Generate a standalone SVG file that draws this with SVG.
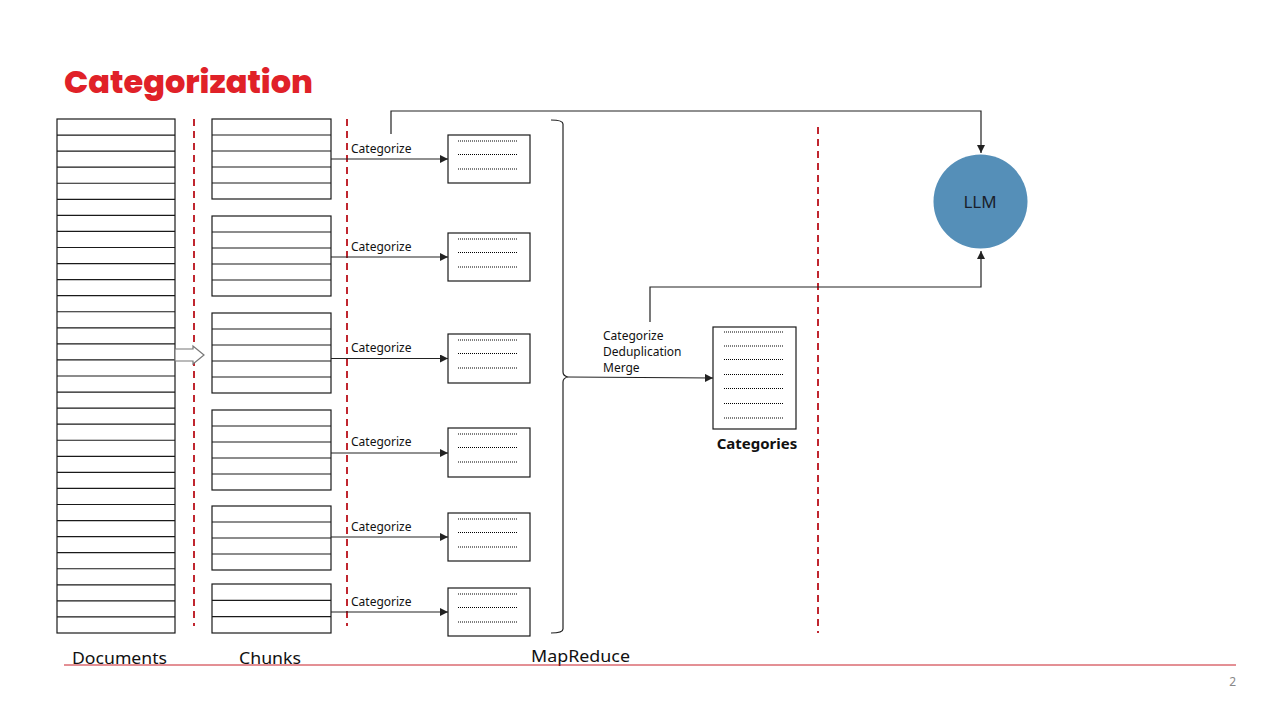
<svg xmlns="http://www.w3.org/2000/svg" width="1280" height="720" viewBox="0 0 1280 720">
<defs>
<style>
.box{fill:#fff;stroke:#1a1a1a;stroke-width:1.2}
.row{fill:none;stroke:#1a1a1a;stroke-width:1.2}
.dots{fill:none;stroke:#000;stroke-width:1.1;stroke-dasharray:1 1}
.conn{fill:none;stroke:#222;stroke-width:1.2}
.red{fill:none;stroke:#c0262f;stroke-width:2;stroke-dasharray:7 5}
.lbl{font-family:"Noto Sans","Open Sans",sans-serif;font-size:12px;fill:#111}
.big{font-family:"Noto Sans","Open Sans",sans-serif;font-size:17px;fill:#111}
</style>
<marker id="ah" viewBox="0 0 10 10" refX="10" refY="5" markerWidth="8" markerHeight="8" markerUnits="userSpaceOnUse" orient="auto">
<path d="M0,0 L10,5 L0,10 z" fill="#222"/>
</marker>
</defs>
<rect width="1280" height="720" fill="#fff"/>
<text x="64" y="93" font-family="Poppins,'Open Sans',sans-serif" font-weight="800" font-size="32" fill="#e02128" textLength="249" lengthAdjust="spacingAndGlyphs">Categorization</text>

<g id="documents">
<rect class="box" x="57" y="119" width="118" height="514"/>
<path class="row" d="M57,135.06H175M57,151.13H175M57,167.19H175M57,183.25H175M57,199.31H175M57,215.38H175M57,231.44H175M57,247.5H175M57,263.56H175M57,279.63H175M57,295.69H175M57,311.75H175M57,327.81H175M57,343.88H175M57,359.94H175M57,376H175M57,392.06H175M57,408.13H175M57,424.19H175M57,440.25H175M57,456.31H175M57,472.38H175M57,488.44H175M57,504.5H175M57,520.56H175M57,536.63H175M57,552.69H175M57,568.75H175M57,584.81H175M57,600.88H175M57,616.94H175"/>
</g>

<g id="chunks">
<rect class="box" x="212" y="119" width="119" height="80"/>
<path class="row" d="M212,135H331M212,151H331M212,167H331M212,183H331"/>
<rect class="box" x="212" y="216" width="119" height="80"/>
<path class="row" d="M212,232H331M212,248H331M212,264H331M212,280H331"/>
<rect class="box" x="212" y="313" width="119" height="80"/>
<path class="row" d="M212,329H331M212,345H331M212,361H331M212,377H331"/>
<rect class="box" x="212" y="410" width="119" height="80"/>
<path class="row" d="M212,426H331M212,442H331M212,458H331M212,474H331"/>
<rect class="box" x="212" y="506" width="119" height="64"/>
<path class="row" d="M212,522H331M212,538H331M212,554H331"/>
<rect class="box" x="212" y="584" width="119" height="49"/>
<path class="row" d="M212,600.3H331M212,616.7H331"/>
</g>

<g id="dividers">
<line class="red" x1="194" y1="119" x2="194" y2="626"/>
<line class="red" x1="347" y1="119" x2="347" y2="626"/>
<line class="red" x1="818" y1="127" x2="818" y2="633"/>
</g>

<g id="outputs">
<rect class="box" x="448" y="135" width="82" height="48"/>
<path class="dots" d="M458,141H518M458,154.5H518M458,169H518"/>
<rect class="box" x="448" y="233" width="82" height="48"/>
<path class="dots" d="M458,239H518M458,252.5H518M458,267H518"/>
<rect class="box" x="448" y="334" width="82" height="49"/>
<path class="dots" d="M458,340H518M458,353.5H518M458,368H518"/>
<rect class="box" x="448" y="428" width="82" height="49"/>
<path class="dots" d="M458,434H518M458,447.5H518M458,462H518"/>
<rect class="box" x="448" y="513" width="82" height="48"/>
<path class="dots" d="M458,519H518M458,532.5H518M458,547H518"/>
<rect class="box" x="448" y="588" width="82" height="48"/>
<path class="dots" d="M458,594H518M458,607.5H518M458,622H518"/>
</g>

<g id="categories">
<rect class="box" x="713" y="327" width="83" height="102"/>
<path class="dots" d="M724,332H783M724,346H783M724,359.5H783M724,374.5H783M724,388.5H783M724,403.5H783M724,418H783"/>
<text x="757" y="449" text-anchor="middle" font-family="'Noto Sans','Open Sans',sans-serif" font-weight="700" font-size="15" fill="#111">Categories</text>
</g>

<g id="llm">
<circle cx="980.5" cy="201.5" r="47" fill="#558fb8"/>
<text x="980" y="208" text-anchor="middle" font-family="'Noto Sans','Open Sans',sans-serif" font-size="17" fill="#1a1f2b">LLM</text>
</g>

<g id="connectors">
<polygon points="175,349 193,349 193,346 204,355 193,364 193,361 175,361" fill="#fff" stroke="#777" stroke-width="1.2"/>
<line class="conn" x1="331" y1="159" x2="448" y2="159" marker-end="url(#ah)"/>
<line class="conn" x1="331" y1="257" x2="448" y2="257" marker-end="url(#ah)"/>
<line class="conn" x1="331" y1="358.5" x2="448" y2="358.5" marker-end="url(#ah)"/>
<line class="conn" x1="331" y1="453" x2="448" y2="453" marker-end="url(#ah)"/>
<line class="conn" x1="331" y1="537" x2="448" y2="537" marker-end="url(#ah)"/>
<line class="conn" x1="331" y1="612" x2="448" y2="612" marker-end="url(#ah)"/>
<path class="conn" d="M551,120 Q563,120 563,124 V372 Q563,376 568,377 Q563,378 563,382 V629 Q563,633 551,633"/>
<path class="conn" d="M568,377 L713,378" marker-end="url(#ah)"/>
<path class="conn" d="M391,134 V111 H981 V153" marker-end="url(#ah)"/>
<path class="conn" d="M650,322 V287 H981 V251" marker-end="url(#ah)"/>
</g>

<g id="labels">
<text class="lbl" x="351" y="153">Categorize</text>
<text class="lbl" x="351" y="251">Categorize</text>
<text class="lbl" x="351" y="352">Categorize</text>
<text class="lbl" x="351" y="446">Categorize</text>
<text class="lbl" x="351" y="531">Categorize</text>
<text class="lbl" x="351" y="606">Categorize</text>
<text class="lbl" x="603" y="340">Categorize</text>
<text class="lbl" x="603" y="356">Deduplication</text>
<text class="lbl" x="603" y="372">Merge</text>
<text class="big" x="72" y="664" textLength="95" lengthAdjust="spacingAndGlyphs">Documents</text>
<text class="big" x="239" y="664" textLength="62" lengthAdjust="spacingAndGlyphs">Chunks</text>
<text class="big" x="531" y="662" textLength="99" lengthAdjust="spacingAndGlyphs">MapReduce</text>
</g>

<line x1="64" y1="665" x2="1236" y2="665" stroke="#c8202a" stroke-width="1"/>
<text x="1236" y="686" text-anchor="end" font-family="'Noto Sans','Open Sans',sans-serif" font-size="12" fill="#888">2</text>
</svg>
